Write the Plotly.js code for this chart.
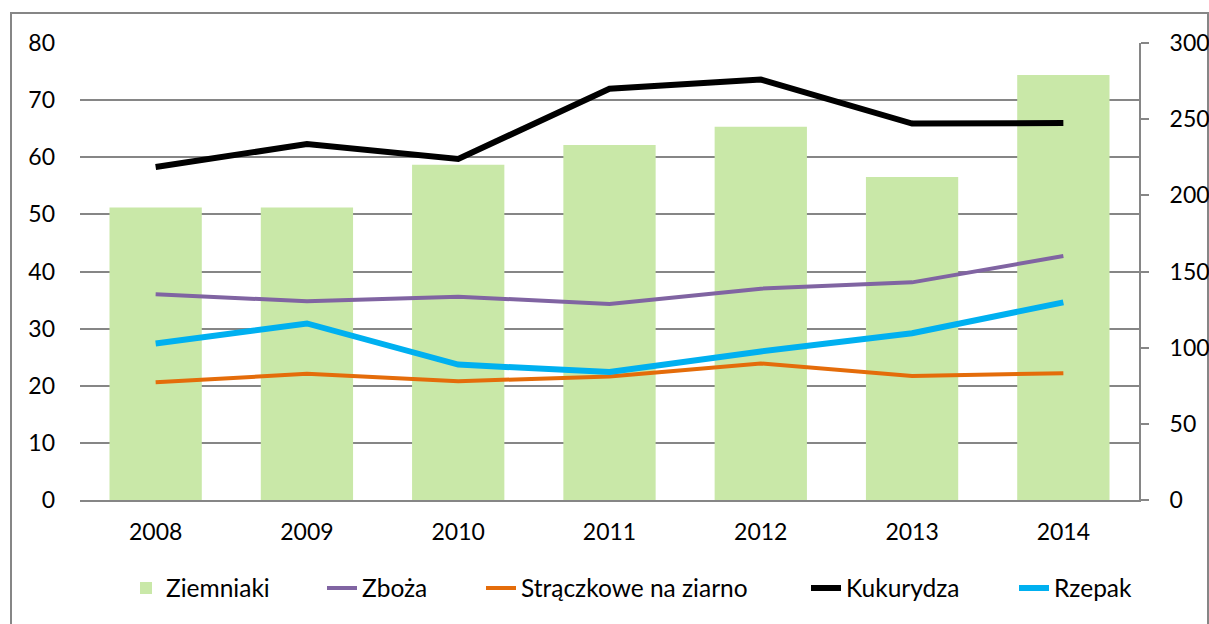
<!DOCTYPE html>
<html>
<head>
<meta charset="utf-8">
<script src="https://cdn.plot.ly/plotly-3.0.1.min.js"></script>
<style>body{margin:0;padding:0;background:#fff}#chart{width:1209px;height:624px}</style>
</head>
<body>
<div id="chart"></div>
<script>
const years = ['2008','2009','2010','2011','2012','2013','2014'];
const ziemniaki = [192, 192, 220, 233, 245, 212, 279];
const zboza = [36.0, 34.8, 35.6, 34.3, 37.0, 38.1, 42.7];
const straczkowe = [20.6, 22.1, 20.8, 21.6, 23.9, 21.7, 22.2];
const kukurydza = [58.3, 62.3, 59.7, 72.0, 73.6, 65.9, 66.0];
const rzepak = [27.4, 30.9, 23.7, 22.4, 26.0, 29.2, 34.6];

const grey = '#868686';
const font = {family: 'Lato, "Open Sans", sans-serif', size: 23, color: '#000'};
const legFont = {family: 'Lato, "Open Sans", sans-serif', size: 24.5, color: '#000'};

const data = [
  {type: 'bar', name: 'Ziemniaki', x: years, y: ziemniaki, yaxis: 'y', legend: 'legend',
   marker: {color: '#C9E8A8'}},
  {type: 'scatter', mode: 'lines', name: 'Zboża', x: years, y: zboza, yaxis: 'y2', legend: 'legend2',
   line: {color: '#8064A2', width: 4}},
  {type: 'scatter', mode: 'lines', name: 'Strączkowe na ziarno', x: years, y: straczkowe, yaxis: 'y2', legend: 'legend3',
   line: {color: '#E46C0A', width: 4}},
  {type: 'scatter', mode: 'lines', name: 'Kukurydza', x: years, y: kukurydza, yaxis: 'y2', legend: 'legend4',
   line: {color: '#000000', width: 6}},
  {type: 'scatter', mode: 'lines', name: 'Rzepak', x: years, y: rzepak, yaxis: 'y2', legend: 'legend5',
   line: {color: '#00B0F0', width: 6}}
];

const textStarts = [167, 363, 522, 847, 1055];
function leg(px) {
  return {orientation: 'h', x: (px - 80 - 41) / 1059, xanchor: 'left', y: (500 - 588) / 457,
          yanchor: 'middle', font: legFont, itemwidth: 30, bgcolor: 'rgba(0,0,0,0)'};
}

const layout = {
  width: 1209, height: 624,
  margin: {l: 80, r: 70, t: 43, b: 124},
  paper_bgcolor: '#fff', plot_bgcolor: '#fff',
  font: font,
  bargap: 0.39,
  showlegend: true,
  legend: leg(textStarts[0]),
  legend2: leg(textStarts[1]),
  legend3: leg(textStarts[2]),
  legend4: leg(textStarts[3]),
  legend5: leg(textStarts[4]),
  xaxis: {type: 'category', range: [-0.5, 6.5], showline: true, linecolor: grey, linewidth: 2,
          ticks: '', showgrid: false, tickfont: font, ticklabelstandoff: 10, fixedrange: true},
  yaxis: {side: 'right', range: [0, 300], dtick: 50, showgrid: false, zeroline: false,
          showline: true, linecolor: grey, linewidth: 2, ticks: 'outside', ticklen: 8,
          tickcolor: grey, tickwidth: 2, tickfont: font, ticklabelstandoff: 16},
  yaxis2: {overlaying: 'y', side: 'left', range: [0, 80], dtick: 10, showgrid: true,
           gridcolor: grey, gridwidth: 2, zeroline: false, showline: false, ticks: '',
           tickfont: font, ticklabelstandoff: 24},
  shapes: [{type: 'rect', xref: 'paper', yref: 'paper',
            x0: (11 - 80) / 1059, x1: (1208 - 80) / 1059,
            y0: (500 - 640) / 457, y1: (500 - 13) / 457,
            line: {color: grey, width: 2}, fillcolor: 'rgba(0,0,0,0)', layer: 'below'}]
};

Plotly.newPlot('chart', data, layout, {displayModeBar: false, staticPlot: true});
</script>
</body>
</html>
